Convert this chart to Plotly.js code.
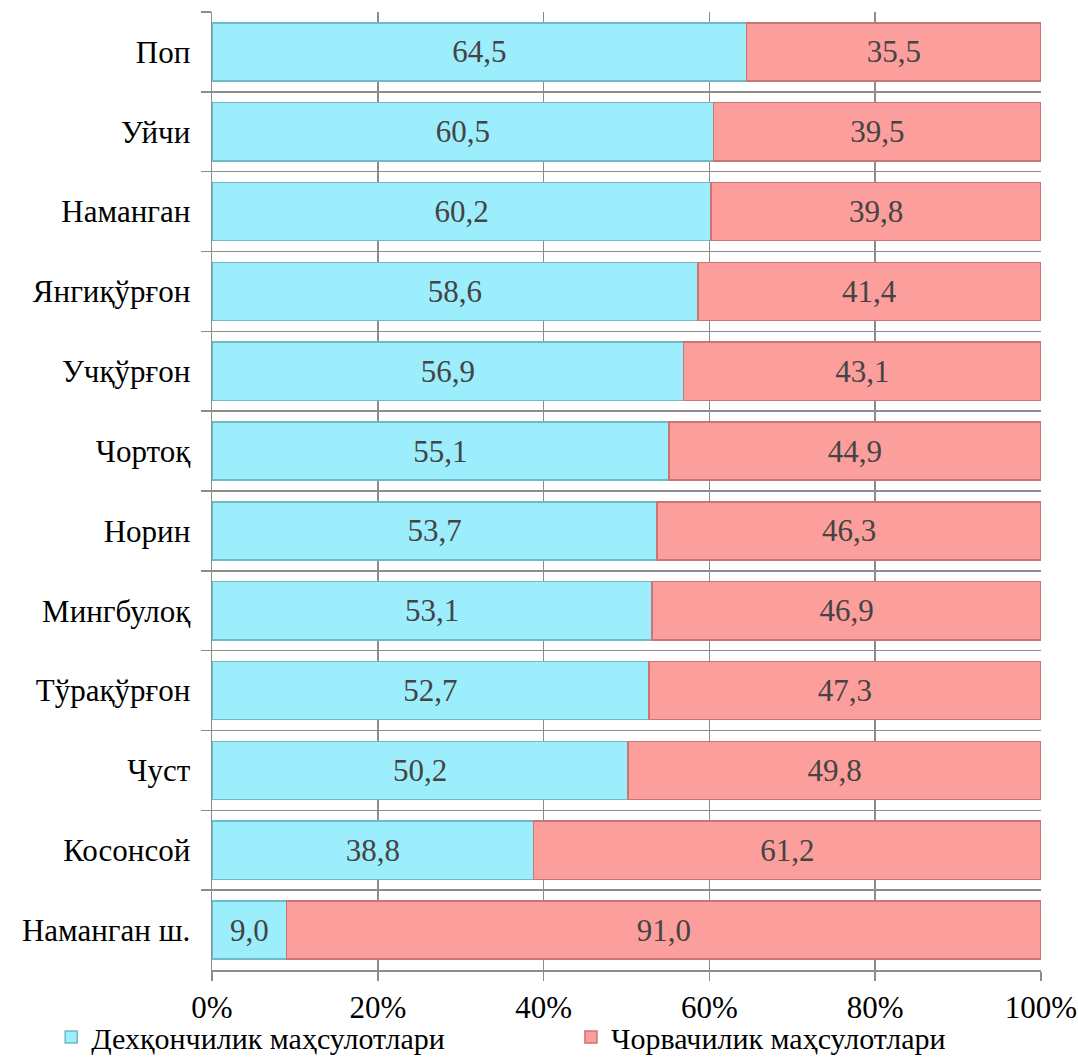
<!DOCTYPE html>
<html>
<head>
<meta charset="utf-8">
<script src="https://cdn.plot.ly/plotly-3.0.1.min.js"></script>
<style>
html,body{margin:0;padding:0;background:#fff;}
#chart{width:1078px;height:1057px;}
#warm{position:absolute;left:0;top:0;font-family:'Liberation Serif';font-size:2px;color:#fff;}
</style>
</head>
<body>
<div id="warm">Наманган 0123456789,%</div>
<div id="chart"></div>
<script>
const categories = ["Поп","Уйчи","Наманган","Янгиқўрғон","Учқўрғон","Чортоқ","Норин","Мингбулоқ","Тўрақўрғон","Чуст","Косонсой","Наманган ш."];
const crops = [64.5,60.5,60.2,58.6,56.9,55.1,53.7,53.1,52.7,50.2,38.8,9.0];
const livestock = [35.5,39.5,39.8,41.4,43.1,44.9,46.3,46.9,47.3,49.8,61.2,91.0];
const seriesNames = ["Дехқончилик маҳсулотлари","Чорвачилик маҳсулотлари"];
const xTickVals = [0,20,40,60,80,100];

const fmt = v => v.toFixed(1).replace('.', ',');

const traces = [
  {type:'bar', orientation:'h', name:seriesNames[0], y:categories, x:crops, legend:'legend',
   text:crops.map(fmt), textposition:'inside', insidetextanchor:'middle', constraintext:'none',
   textfont:{size:31},
   marker:{color:'#9DEEFC', line:{color:'#6FB9C9', width:1.5}}},
  {type:'bar', orientation:'h', name:seriesNames[1], y:categories, x:livestock, legend:'legend2',
   text:livestock.map(fmt), textposition:'inside', insidetextanchor:'middle', constraintext:'none',
   textfont:{size:31},
   marker:{color:'#FC9E9C', line:{color:'#C97574', width:1.5}}}
];

const legendBase = {orientation:'h', xanchor:'left', y:-0.07, yanchor:'middle',
  font:{size:30}, itemwidth:30, bgcolor:'rgba(0,0,0,0)'};

const layout = {
  width:1078, height:1057,
  margin:{l:212, r:37, t:12, b:87, autoexpand:false},
  paper_bgcolor:'#fff', plot_bgcolor:'#fff',
  barmode:'stack', bargap:0.27,
  font:{family:'Liberation Serif', size:31, color:'#000'},
  showlegend:true,
  legend:Object.assign({}, legendBase, {x:-0.194}),
  legend2:Object.assign({}, legendBase, {x:0.433}),
  xaxis:{range:[0,100], tickvals:xTickVals, ticktext:xTickVals.map(v=>v+'%'),
         showgrid:true, gridcolor:'#8C8C8C', gridwidth:1.5,
         showline:true, linecolor:'#8C8C8C', linewidth:1.5,
         ticks:'outside', ticklen:9, tickcolor:'#8C8C8C', tickwidth:1.5,
         tickfont:{size:31}, zeroline:false, fixedrange:true, automargin:false},
  yaxis:{type:'category', autorange:'reversed', tickson:'boundaries',
         showgrid:true, gridcolor:'#8C8C8C', gridwidth:1.5,
         showline:true, linecolor:'#8C8C8C', linewidth:1.5,
         ticks:'outside', ticklen:10, tickcolor:'#8C8C8C', tickwidth:1.5,
         ticklabelstandoff:14, automargin:false,
         tickfont:{size:31}, fixedrange:true}
};

Plotly.newPlot('chart', traces, layout, {staticPlot:true});
</script>
</body>
</html>
